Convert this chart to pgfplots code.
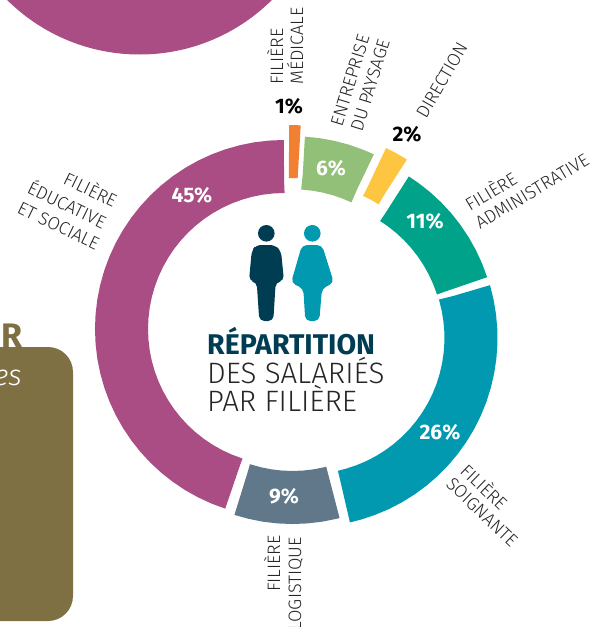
\documentclass[border=0pt]{standalone}
\usepackage{pgfplots}
\usepackage{pgfplotstable}
\pgfplotsset{compat=1.18}
\usepackage{fontspec}
\setmainfont{Fira Sans}
\newfontfamily\lt{Fira Sans Light}
\newfontfamily\bd{Fira Sans}[Scale=1]
\definecolor{cPurple}{HTML}{A94D84}
\definecolor{cGray}{HTML}{607889}
\definecolor{cTeal}{HTML}{0099B0}
\definecolor{cGreen}{HTML}{00A289}
\definecolor{cYellow}{HTML}{FEC640}
\definecolor{cLight}{HTML}{92C078}
\definecolor{cOrange}{HTML}{F28032}
\definecolor{cOlive}{HTML}{7F7043}
\definecolor{cDark}{HTML}{003D52}
% cumulative percentage along the ring, one table for each share
\pgfplotstableread[row sep=\\]{p\\0\\0.05\\1.25\\2.5\\3.75\\5\\6.25\\7.5\\8.75\\10\\11.25\\12.5\\13.75\\15\\16.25\\17.5\\18.75\\20\\21.25\\22.5\\23.75\\25\\26.25\\27.5\\28.75\\30\\31.25\\32.5\\33.75\\35\\36.25\\37.5\\38.75\\40\\41.25\\42.5\\43.75\\44.95\\45\\}\tPurple
\pgfplotstableread[row sep=\\]{p\\45\\45.05\\46.25\\47.5\\48.75\\50\\51.25\\52.5\\53.75\\53.95\\54\\}\tGray
\pgfplotstableread[row sep=\\]{p\\54\\54.05\\55\\56.25\\57.5\\58.75\\60\\61.25\\62.5\\63.75\\65\\66.25\\67.5\\68.75\\70\\71.25\\72.5\\73.75\\75\\76.25\\77.5\\78.75\\79.95\\80\\}\tTeal
\pgfplotstableread[row sep=\\]{p\\80\\80.05\\81.25\\82.5\\83.75\\85\\86.25\\87.5\\88.75\\90\\90.95\\91\\}\tGreen
\pgfplotstableread[row sep=\\]{p\\91\\91.05\\92\\92.95\\93\\}\tYellow
\pgfplotstableread[row sep=\\]{p\\93\\93.05\\94\\95.25\\96.5\\97.75\\98.95\\99\\}\tLight
\pgfplotstableread[row sep=\\]{p\\99\\99.05\\99.5\\99.95\\100\\}\tOrange
\newcommand{\sector}[5][90]{\addplot[draw=#2,line width=53pt,line cap=butt,line join=miter,no marks] table[x=p,y=p,x expr={#3+162.5*cos(#1+3.6*\thisrow{p})},y expr={#4-162.5*sin(#1+3.6*\thisrow{p})}]{#5};}
\tikzset{
 lab/.style={font=\lt\fontsize{18}{18}\selectfont,text=black!85,inner sep=0pt,anchor=base west},
 pw/.style={font=\bd\bfseries\fontsize{21}{21}\selectfont,text=white,inner sep=0pt},
 pk/.style={font=\bd\bfseries\fontsize{21}{21}\selectfont,text=black,inner sep=0pt}}
\begin{document}
\begin{tikzpicture}[x=1pt,y=1pt]
\clip (0,0) rectangle (596,627);
\begin{axis}[at={(0,0)},anchor=south west,scale only axis,width=596pt,height=627pt,
 xmin=0,xmax=596,ymin=0,ymax=627,y dir=reverse,hide axis]
% decoration
\fill[cPurple] (139.5,-133.5) circle[radius=188pt];
\fill[cOlive,rounded corners=25pt] (-50,347) rectangle (73,621);
\node[font=\bd\bfseries\fontsize{34}{34}\selectfont,text=cOlive,anchor=base east,inner sep=0pt] at (23,347) {R};
\node[font=\lt\itshape\fontsize{29}{29}\selectfont,text=white,anchor=base east,inner sep=0pt] at (22,385) {es};
% ring
\sector{cPurple}{284}{329}{\tPurple}
\sector{cGray}{292.5}{335}{\tGray}
\sector[88.2]{cTeal}{308.5}{338}{\tTeal}
\sector{cGreen}{307.5}{336}{\tGreen}
\sector{cYellow}{305.5}{319}{\tYellow}
\sector{cLight}{293.2}{325.3}{\tLight}
\sector{cOrange}{289}{314}{\tOrange}
% shares
\node[pw] at (192,195) {45\%};
\node[pw] at (284,496) {9\%};
\node[pw] at (440,432) {26\%};
\node[pw] at (425,221) {11\%};
\node[pw] at (331,168) {6\%};
\node[pk] at (407,134) {2\%};
\node[pk] at (289,106) {1\%};
% labels
\node[lab,rotate=90] at (283,85) {FILIÈRE};
\node[lab,rotate=90] at (303,85) {MÉDICALE};
\node[lab,rotate=73] at (342,128) {ENTREPRISE};
\node[lab,rotate=73] at (362,133) {DU PAYSAGE};
\node[lab,rotate=60] at (426,120) {DIRECTION};
\node[lab,rotate=31] at (470,212) {FILIÈRE};
\node[lab,rotate=31] at (480,230) {ADMINISTRATIVE};
\node[lab,rotate=-26] at (62,183) {FILIÈRE};
\node[lab,rotate=-26] at (26,192) {ÉDUCATIVE};
\node[lab,rotate=-26] at (16,212) {ET SOCIALE};
\node[lab,rotate=-44] at (459,472) {FILIÈRE};
\node[lab,rotate=-44] at (445,485) {SOIGNANTE};
\node[lab,rotate=90] at (280,592) {FILIÈRE};
\node[lab,rotate=90,anchor=base east] at (301,537) {LOGISTIQUE};
% icons
\fill[cDark] (266.3,233.3) circle[radius=8.3pt];
\fill[cDark,rounded corners=5pt] (256,245) -- (275,245) -- (281,251) -- (284,281) -- (275.7,282) -- (273.3,321) -- (259.3,321) -- (256.7,282) -- (249,281) -- (251.7,251) -- cycle;
\fill[cTeal] (312.3,233.3) circle[radius=8.3pt];
\fill[cTeal,rounded corners=5pt] (302,245) -- (322,245) -- (334,283) -- (322,288.3) -- (319.3,321) -- (305.3,321) -- (303.3,288.3) -- (291,283) -- cycle;
% title
\node[font=\bd\bfseries\fontsize{28.5}{28}\selectfont,text=cDark,anchor=base west,inner sep=0pt] at (207,354) {RÉPARTITION};
\node[font=\lt\fontsize{29.5}{28}\selectfont,text=black!85,anchor=base west,inner sep=0pt] at (207,383) {DES SALARIÉS};
\node[font=\lt\fontsize{29.5}{28}\selectfont,text=black!85,anchor=base west,inner sep=0pt] at (207,411) {PAR FILIÈRE};
\end{axis}
\end{tikzpicture}
\end{document}
